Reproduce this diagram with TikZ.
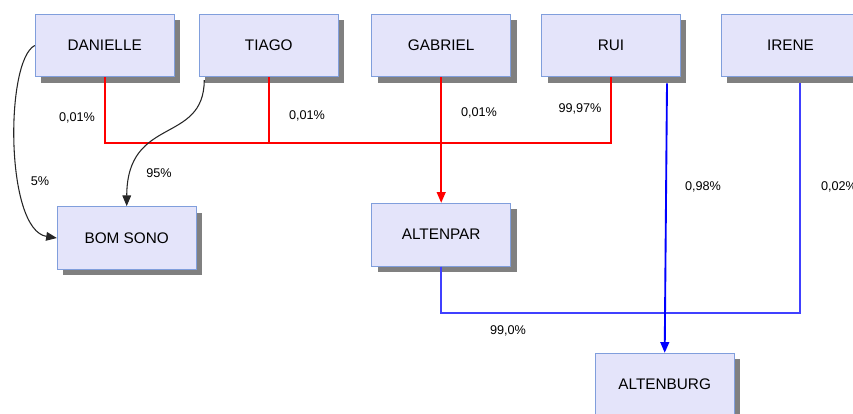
\documentclass[tikz,border=0pt]{standalone}
\usepackage{fontspec}
\setmainfont{Liberation Sans}
\usetikzlibrary{shadows,arrows.meta}
\definecolor{boxfill}{HTML}{E4E4FA}
\definecolor{boxline}{HTML}{809EDC}
\definecolor{redline}{HTML}{FF0000}
\definecolor{blueline}{HTML}{0000FF}
\definecolor{paleblue}{HTML}{4040FF}
\begin{document}
\begin{tikzpicture}[x=0.75pt,y=-0.75pt,
    box_node/.style={rectangle,draw=boxline,fill=boxfill,line width=0.8pt,minimum width=104pt,minimum height=47pt,font=\fontsize{11.5}{13}\selectfont,drop shadow={shadow xshift=4.5pt,shadow yshift=-4.5pt,fill=black!50,opacity=1}},
    pct_node/.style={inner sep=0pt,font=\fontsize{9.5}{11}\selectfont},
    tip/.style={-{Triangle[length=8pt,width=6.5pt]}}]
    \useasboundingbox (0,0) rectangle (853,414);
    \node[box_node] (danielle) at (104.7, 45.5) {DANIELLE};
    \node[box_node] (tiago) at (268.8, 45.5) {TIAGO};
    \node[box_node] (gabriel) at (441.2, 45.5) {GABRIEL};
    \node[box_node] (rui) at (611, 45.5) {RUI};
    \node[box_node] (irene) at (790.5, 45.5) {IRENE};
    \node[box_node] (bomsono) at (126.7, 238) {BOM SONO};
    \node[box_node] (altenpar) at (441.2, 234.7) {ALTENPAR};
    \node[box_node] (altenburg) at (664.7, 384.7) {ALTENBURG};
    \coordinate (redbus) at (441.2, 143);
    \coordinate (bluebus) at (0, 313);
    \coordinate (ruiout) at ([xshift=42pt,yshift=-4.5pt]rui.south);
    \coordinate (ireneout) at ([xshift=7pt,yshift=-4.5pt]irene.south);
    \coordinate (tiagoout) at ([xshift=4pt,yshift=-2pt]tiago.south west);
    \draw[redline,line width=1.2pt] (danielle.south) |- (redbus);
    \draw[redline,line width=1.2pt] (rui.south) |- (redbus);
    \draw[redline,line width=1.2pt] (tiago.south) -- (tiago.south |- redbus);
    \draw[redline,line width=1.4pt,tip] (gabriel.south) -- (altenpar.north);
    \draw[paleblue,line width=1.2pt] (altenpar.south) |- (ireneout |- bluebus) -- (ireneout);
    \draw[blueline,line width=1.4pt,tip] (ruiout) -- (altenburg.north);
    \draw[black!85,line width=0.8pt,tip] (danielle.west) .. controls (5,60) and (5,230) .. (bomsono.west);
    \draw[black!85,line width=0.8pt,tip] (tiagoout) .. controls (204,145) and (127,115) .. (bomsono.north);
    \node[pct_node] (p1) at (77, 118) {0,01\%};
    \node[pct_node] (p2) at (307, 116) {0,01\%};
    \node[pct_node] (p3) at (479, 113) {0,01\%};
    \node[pct_node] (p4) at (580, 109) {99,97\%};
    \node[pct_node] (p5) at (159, 173) {95\%};
    \node[pct_node] (p6) at (40, 181) {5\%};
    \node[pct_node] (p7) at (703, 187) {0,98\%};
    \node[pct_node] (p8) at (839, 187) {0,02\%};
    \node[pct_node] (p9) at (508, 331) {99,0\%};
\end{tikzpicture}
\end{document}
